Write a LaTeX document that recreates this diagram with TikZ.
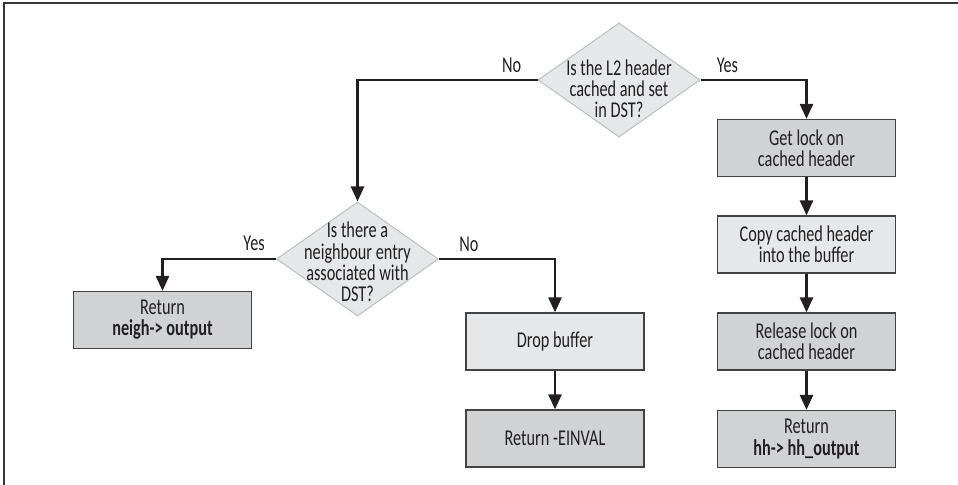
\documentclass[tikz,border=0pt]{standalone}
\usepackage{fontspec}
\setmainfont[FakeStretch=0.72]{Carlito}
\usetikzlibrary{shapes.geometric,arrows.meta}
\definecolor{boxdark}{HTML}{D1D2D4}
\definecolor{boxlight}{HTML}{E6E7E8}
\definecolor{ink}{HTML}{231F20}
\definecolor{rim}{HTML}{BCBEC0}

\begin{document}
\begin{tikzpicture}[x=0.5pt,y=-0.5pt,>={Triangle[length=7.5pt,width=6.5pt]},
  every node/.style={font=\fontsize{11.3}{10.6}\selectfont, text=ink},
  decision/.style={diamond, draw=rim, fill=boxlight, line width=0.5pt,
    minimum width=81pt, minimum height=57pt, inner sep=0pt},
  qtext/.style={align=center, inner sep=0pt},
  proc/.style={draw=ink!85, line width=0.6pt, minimum width=89pt,
    minimum height=28.5pt, align=center, inner sep=0pt},
  dark/.style={proc, fill=boxdark},
  light/.style={proc, fill=boxlight},
  flow/.style={->, draw=ink, line width=1.3pt},
  branch/.style={inner sep=0pt}]
  \useasboundingbox (0,0) rectangle (958,485);
  \draw[ink!90, line width=1pt] (4,485) -- (4,3) -- (958,3);

  % first question
  \node[decision] (q1) at (619,80) {};
  \node[qtext] (q1t) at (619,89) {Is the L2 header\\cached and set\\in DST?};

  % cached header path
  \node[dark]  (lock)    at (806.5,148)   {Get lock on\\cached header};
  \node[light] (copy)    at (806.5,244.5) {Copy cached header\\into the buffer};
  \node[dark]  (release) at (806.5,341.5) {Release lock on\\cached header};
  \node[dark]  (rhh)     at (806.5,439)   {Return\\\textbf{hh-> hh\_output}};

  % neighbour path
  \node[decision] (q2) at (357.5,259) {};
  \node[qtext] (q2t) at (357.5,262) {Is there a\\neighbour entry\\associated with\\DST?};
  \node[dark]  (rneigh) at (162.5,320)   {Return\\\textbf{neigh-> output}};
  \node[light] (drop)   at (555,341.5)   {Drop buffer};
  \node[dark]  (einval) at (555,438.5)   {Return -EINVAL};

  \draw[flow] (q1.west) -| node[branch, at start, anchor=south east, xshift=-7.5pt, yshift=3pt] {No} (q2.north);
  \draw[flow] (q1.east) -| node[branch, at start, anchor=south west, xshift=7.5pt, yshift=3pt] {Yes} (lock.north);
  \draw[flow] (lock.south) -- (copy.north);
  \draw[flow] (copy.south) -- (release.north);
  \draw[flow] (release.south) -- (rhh.north);
  \draw[flow] (q2.west) -| node[branch, at start, anchor=south east, xshift=-5pt, yshift=3.5pt] {Yes} (rneigh.north);
  \draw[flow] (q2.east) -| node[branch, at start, anchor=south west, xshift=9.5pt, yshift=3pt] {No} (drop.north);
  \draw[flow] (drop.south) -- (einval.north);
\end{tikzpicture}
\end{document}
